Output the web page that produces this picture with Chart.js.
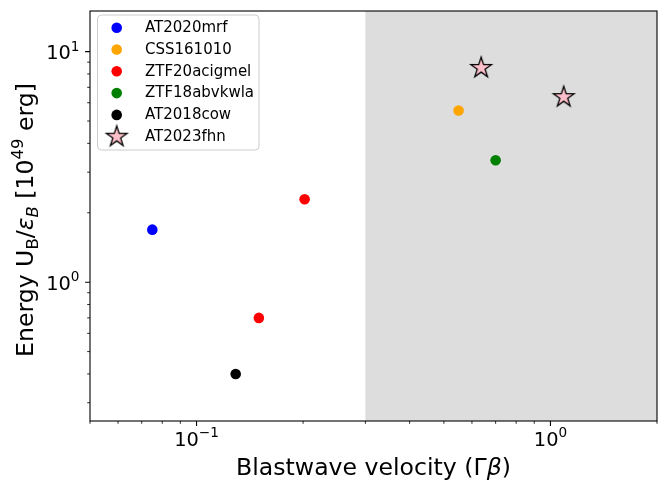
<!DOCTYPE html>
<html>
<head>
<meta charset="utf-8">
<script src="https://cdn.jsdelivr.net/npm/chart.js@4.4.0/dist/chart.umd.min.js"></script>
<style>
  html, body { margin: 0; padding: 0; background: #fff; }
</style>
</head>
<body>
<canvas id="chart" width="671" height="483"></canvas>
<script>
// ====== DATA ======
const names = ["AT2020mrf", "CSS161010", "ZTF20acigmel", "ZTF18abvkwla", "AT2018cow", "AT2023fhn"];
const colors = ["#0000ff", "#ffa500", "#ff0000", "#008000", "#000000", "#ffc0cb"];

// blastwave velocity (Gamma beta) / energy (1e49 erg) for each source
const mrfX = [0.075], mrfY = [1.69];
const cssX = [0.55], cssY = [5.55];
const ztf20X = [0.202, 0.150], ztf20Y = [2.29, 0.70];
const ztf18X = [0.70], ztf18Y = [3.38];
const cowX = [0.129], cowY = [0.40];
const fhnX = [0.637, 1.09], fhnY = [8.5, 6.35];

const seriesX = [mrfX, cssX, ztf20X, ztf18X, cowX, fhnX];
const seriesY = [mrfY, cssY, ztf20Y, ztf18Y, cowY, fhnY];

// shaded region in velocity
const shadeFrom = 0.3, shadeTo = 2;

// ticks
const xMajor = [0.1, 1], xMajorExp = ["\u22121", "0"];
const xMinor = [0.05, 0.06, 0.07, 0.08, 0.09, 0.2, 0.3, 0.4, 0.5, 0.6, 0.7, 0.8, 0.9, 2];
const yMajor = [1, 10], yMajorExp = ["0", "1"];
const yMinor = [0.3, 0.4, 0.5, 0.6, 0.7, 0.8, 0.9, 2, 3, 4, 5, 6, 7, 8, 9];

const FONT = "'DejaVu Sans', sans-serif";

// ====== STAR MARKER ======
function makeStar() {
  const c = document.createElement("canvas");
  c.width = 28; c.height = 28;
  const g = c.getContext("2d");
  const R = 10.8, r = R * 0.381966;
  g.beginPath();
  for (let i = 0; i < 10; i++) {
    const a = -Math.PI / 2 + i * Math.PI / 5;
    const rr = i % 2 ? r : R;
    const px = 14 + rr * Math.cos(a), py = 14 + rr * Math.sin(a);
    i ? g.lineTo(px, py) : g.moveTo(px, py);
  }
  g.closePath();
  g.fillStyle = "#ffc0cb";
  g.fill();
  g.lineWidth = 1.3;
  g.strokeStyle = "#000";
  g.stroke();
  return c;
}
const star = makeStar();

// ====== RICH TEXT (sub/superscript) ======
function richWidth(ctx, parts) {
  let w = 0;
  parts.forEach((p) => {
    ctx.font = (p.italic ? "italic " : "") + p.size + "px " + FONT;
    w += ctx.measureText(p.t).width;
  });
  return w;
}
function drawRich(ctx, parts, x, y) {
  let cx = x;
  parts.forEach((p) => {
    ctx.font = (p.italic ? "italic " : "") + p.size + "px " + FONT;
    ctx.fillText(p.t, cx, y + (p.dy || 0));
    cx += ctx.measureText(p.t).width;
  });
}

const L = 23.6, LS = L * 0.7;
const yTitle = [
  { t: "Energy U", size: L },
  { t: "B", size: LS, dy: 5 },
  { t: "/", size: L },
  { t: "\u03b5", size: L, italic: true },
  { t: "B", size: LS, italic: true, dy: 5 },
  { t: " [10", size: L },
  { t: "49", size: LS, dy: -10.5 },
  { t: " erg]", size: L },
];
const xTitle = [
  { t: "Blastwave velocity (\u0393", size: L },
  { t: "\u03b2", size: L, italic: true },
  { t: ")", size: L },
];
const T = 19.4, TS = T * 0.7;

// ====== PLUGIN: shading, frame, ticks, titles, legend ======
const decor = {
  id: "decor",
  beforeDatasetsDraw(chart) {
    const { ctx, chartArea: a, scales } = chart;
    const x0 = scales.x.getPixelForValue(shadeFrom);
    const x1 = scales.x.getPixelForValue(shadeTo);
    ctx.save();
    ctx.fillStyle = "#dddddd";
    ctx.fillRect(x0, a.top, x1 - x0, a.bottom - a.top);
    ctx.restore();
  },
  afterDatasetsDraw(chart) {
    const { ctx, chartArea: a, scales } = chart;
    ctx.save();
    ctx.strokeStyle = "#000";
    ctx.fillStyle = "#000";

    // frame
    ctx.lineWidth = 1.1;
    ctx.strokeRect(a.left, a.top, a.right - a.left, a.bottom - a.top);

    // ticks
    const tick = (vals, len, w, axis) => {
      ctx.lineWidth = w;
      ctx.beginPath();
      vals.forEach((v) => {
        if (axis === "x") {
          const px = scales.x.getPixelForValue(v);
          ctx.moveTo(px, a.bottom);
          ctx.lineTo(px, a.bottom + len);
        } else {
          const py = scales.y.getPixelForValue(v);
          ctx.moveTo(a.left, py);
          ctx.lineTo(a.left - len, py);
        }
      });
      ctx.stroke();
    };
    tick(xMinor, 2.8, 0.84, "x");
    tick(xMajor, 4.9, 1.1, "x");
    tick(yMinor, 2.8, 0.84, "y");
    tick(yMajor, 4.9, 1.1, "y");

    // tick labels
    ctx.textBaseline = "alphabetic";
    ctx.textAlign = "left";
    xMajor.forEach((v, i) => {
      const parts = [{ t: "10", size: T }, { t: xMajorExp[i], size: TS, dy: -8.6 }];
      const w = richWidth(ctx, parts);
      drawRich(ctx, parts, scales.x.getPixelForValue(v) - w / 2, a.bottom + 25);
    });
    yMajor.forEach((v, i) => {
      const parts = [{ t: "10", size: T }, { t: yMajorExp[i], size: TS, dy: -8.6 }];
      const w = richWidth(ctx, parts);
      drawRich(ctx, parts, a.left - 10.5 - w, scales.y.getPixelForValue(v) + 7.5);
    });

    // axis titles
    let w = richWidth(ctx, xTitle);
    drawRich(ctx, xTitle, (a.left + a.right) / 2 - w / 2, 475);

    w = richWidth(ctx, yTitle);
    ctx.translate(33, 220);
    ctx.rotate(-Math.PI / 2);
    drawRich(ctx, yTitle, -w / 2, 0);
    ctx.restore();

    // legend
    ctx.save();
    const bx = 97.5, by = 15, bw = 161.5, bh = 135;
    ctx.beginPath();
    ctx.roundRect(bx, by, bw, bh, 4);
    ctx.fillStyle = "rgba(255,255,255,0.8)";
    ctx.fill();
    ctx.strokeStyle = "#cccccc";
    ctx.lineWidth = 1;
    ctx.stroke();
    ctx.font = "15px " + FONT;
    ctx.textBaseline = "middle";
    chart.data.datasets.forEach((ds, i) => {
      const ry = 27.7 + i * 21.8;
      if (ds.pointStyle === "circle") {
        ctx.beginPath();
        ctx.arc(116.7, ry, 5.3, 0, Math.PI * 2);
        ctx.fillStyle = ds.backgroundColor;
        ctx.fill();
      } else {
        ctx.drawImage(ds.pointStyle, 116.7 - 14, ry - 14);
      }
      ctx.fillStyle = "#000";
      ctx.fillText(ds.label, 145, ry + 0.5);
    });
    ctx.restore();
  },
};

// ====== CHART ======
const datasets = names.map((n, i) => ({
  label: n,
  data: seriesX[i].map((x, j) => ({ x, y: seriesY[i][j] })),
  backgroundColor: colors[i],
  borderWidth: 0,
  pointStyle: n === "AT2023fhn" ? star : "circle",
  pointRadius: n === "AT2023fhn" ? 11 : 5.3,
}));

new Chart(document.getElementById("chart"), {
  type: "scatter",
  data: { datasets },
  options: {
    responsive: false,
    animation: false,
    layout: { padding: { top: 8, right: 14, left: 0, bottom: 0 } },
    plugins: { legend: { display: false }, tooltip: { enabled: false } },
    scales: {
      x: {
        type: "logarithmic", min: 0.05, max: 2,
        ticks: { display: false }, grid: { display: false }, border: { display: false },
        afterFit: (s) => { s.height = 62; },
      },
      y: {
        type: "logarithmic", min: 0.25, max: 15,
        ticks: { display: false }, grid: { display: false }, border: { display: false },
        afterFit: (s) => { s.width = 90; },
      },
    },
  },
  plugins: [decor],
});
</script>
</body>
</html>
